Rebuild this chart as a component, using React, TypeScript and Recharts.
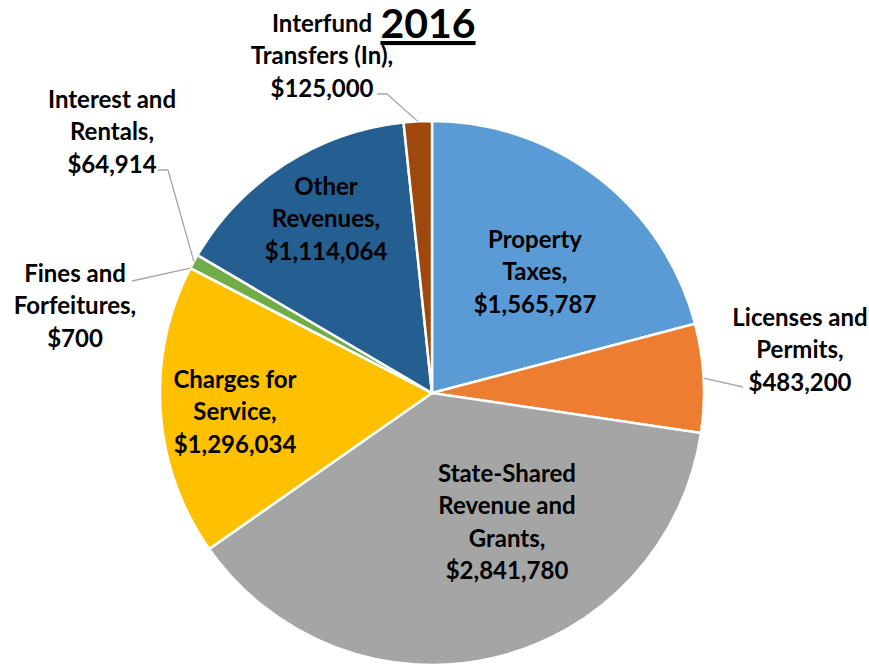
import { PieChart, Pie, Cell } from 'recharts'

const categories = [
  'Property Taxes',
  'Licenses and Permits',
  'State-Shared Revenue and Grants',
  'Charges for Service',
  'Fines and Forfeitures',
  'Interest and Rentals',
  'Other Revenues',
  'Interfund Transfers (In)',
]

const amounts = [1565787, 483200, 2841780, 1296034, 700, 64914, 1114064, 125000]

const labelLines = [
  ['Property', 'Taxes,'],
  ['Licenses and', 'Permits,'],
  ['State-Shared', 'Revenue and', 'Grants,'],
  ['Charges for', 'Service,'],
  ['Fines and', 'Forfeitures,'],
  ['Interest and', 'Rentals,'],
  ['Other', 'Revenues,'],
  ['Interfund', 'Transfers (In),'],
]

const colors = ['#5B9BD5', '#ED7D31', '#A5A5A5', '#FFC000', '#4472C4', '#70AD47', '#255E91', '#9E480E']

// label placement relative to the pie centre; leader = elbow points, null for inside labels
const LAYOUT: { dx: number; dy: number; leader: [number, number][] | null }[] = [
  { dx: 103, dy: -155, leader: null },
  { dx: 368, dy: -77, leader: [[311, -6]] },
  { dx: 75, dy: 79, leader: null },
  { dx: -197, dy: -15, leader: null },
  { dx: -357, dy: -121, leader: [[-300, -112]] },
  { dx: -320, dy: -295, leader: [[-264, -223], [-274, -223]] },
  { dx: -106, dy: -208, leader: null },
  { dx: -110, dy: -371, leader: [[-45, -299], [-55, -299]] },
]

const FONT = 'Lato, "Open Sans", sans-serif'
const LINE = 32.5
const RADIAN = Math.PI / 180

const data = categories.map((name, i) => ({ name, value: amounts[i] }))

const money = (v: number) => '$' + v.toLocaleString('en-US')

function renderLabel(props: any) {
  const { cx, cy, midAngle, outerRadius, index } = props
  const lay = LAYOUT[index]
  const lines = [...labelLines[index], money(amounts[index])]
  const x = cx + lay.dx
  const y0 = cy + lay.dy
  let leader = null
  if (lay.leader) {
    const ax = cx + outerRadius * Math.cos(-midAngle * RADIAN)
    const ay = cy + outerRadius * Math.sin(-midAngle * RADIAN)
    const pts = [[ax, ay], ...lay.leader.map(([px, py]) => [cx + px, cy + py])]
    leader = (
      <polyline
        points={pts.map((p) => p.join(',')).join(' ')}
        fill="none"
        stroke="#A6A6A6"
        strokeWidth={1.3}
      />
    )
  }
  return (
    <g key={`lbl-${index}`}>
      {leader}
      {lines.map((t, j) => (
        <text
          key={j}
          x={x}
          y={y0 + j * LINE}
          textAnchor="middle"
          dominantBaseline="central"
          fontFamily={FONT}
          fontWeight={700}
          fontSize={24}
          fill="#000"
        >
          {t}
        </text>
      ))}
    </g>
  )
}

export default function App() {
  return (
    <div style={{ position: 'absolute', left: 0, top: 0, width: 869, height: 668, background: '#fff' }}>
      <PieChart width={869} height={668} margin={{ top: 0, right: 0, bottom: 0, left: 0 }}>
        <text
          x={428}
          y={38}
          textAnchor="middle"
          fontFamily={FONT}
          fontWeight={700}
          fontSize={41}
          textDecoration="underline"
          fill="#000"
        >
          2016
        </text>
        <Pie
          data={data}
          dataKey="value"
          nameKey="name"
          cx={432}
          cy={393}
          outerRadius={272}
          startAngle={90}
          endAngle={-270}
          stroke="#fff"
          strokeWidth={2.5}
          label={renderLabel}
          labelLine={false}
          isAnimationActive={false}
        >
          {data.map((d, i) => (
            <Cell key={`cell-${i}`} fill={colors[i]} />
          ))}
        </Pie>
      </PieChart>
    </div>
  )
}
